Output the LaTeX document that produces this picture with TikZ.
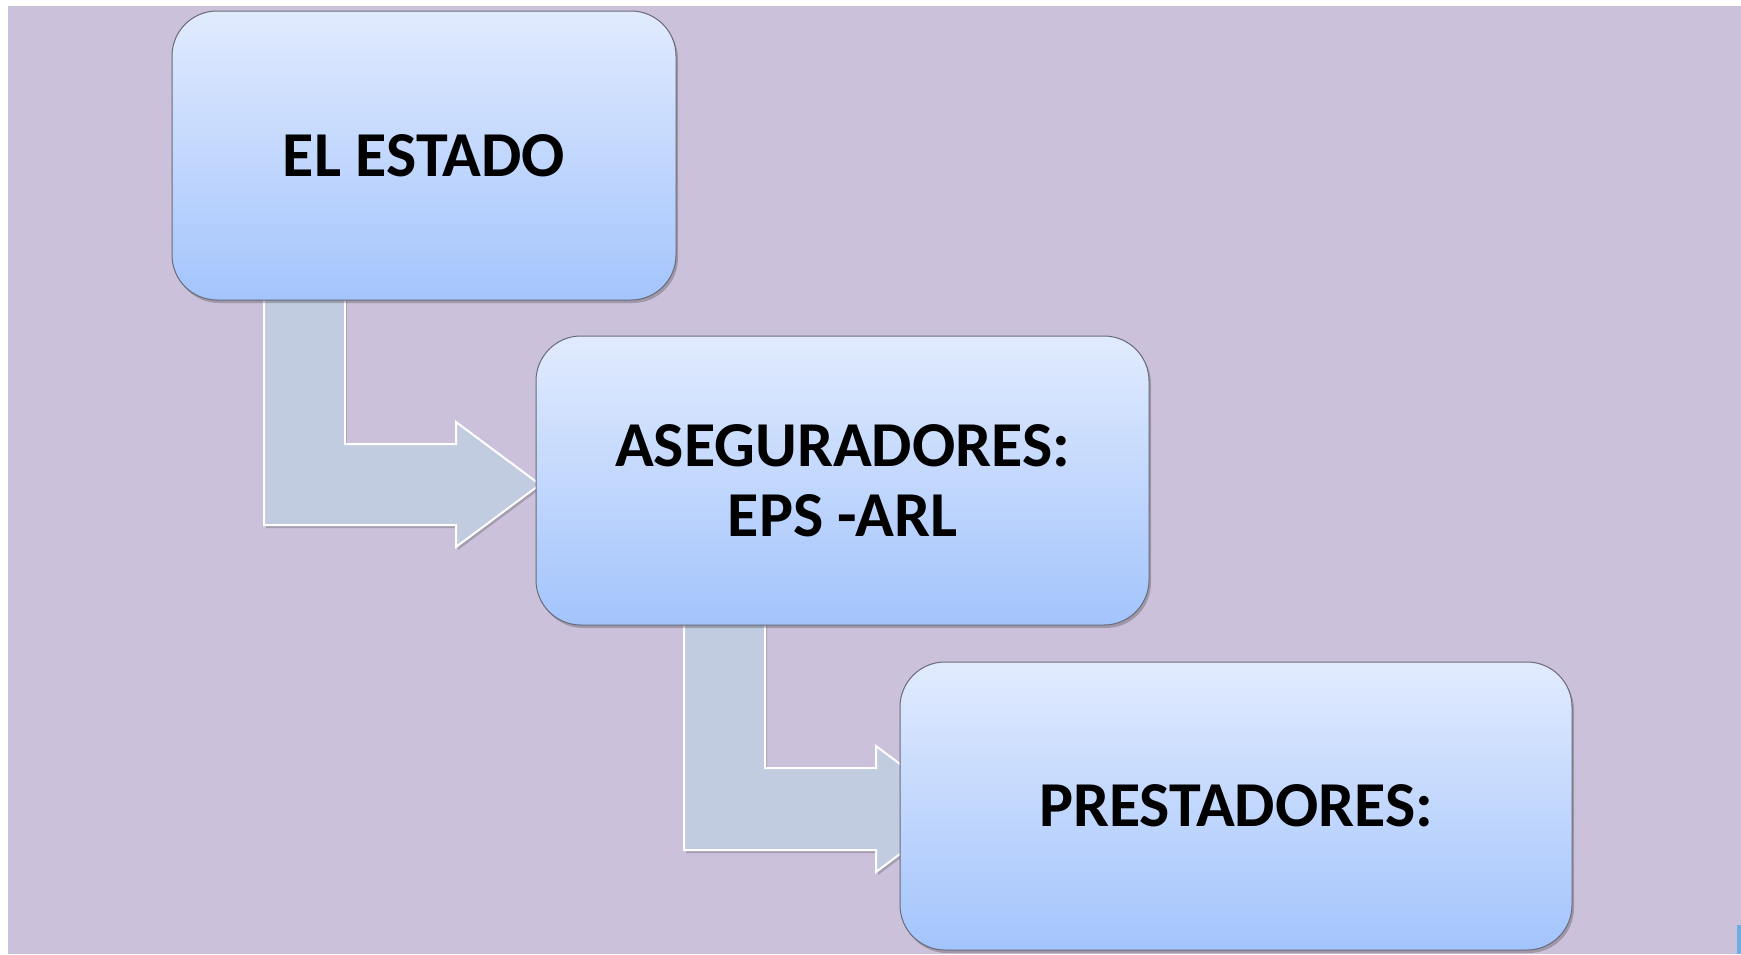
\documentclass[tikz,border=0pt]{standalone}
\usepackage{fontspec}
\setmainfont{Carlito}
\usetikzlibrary{shadows,calc}
\definecolor{bgc}{HTML}{CBC1DA}
\definecolor{boxtop}{HTML}{E1EBFE}
\definecolor{boxbot}{HTML}{A3C4FC}
\definecolor{boxline}{HTML}{6A6A78}
\definecolor{arrowc}{HTML}{C2CCE0}
\tikzset{
  stagebox/.style={rectangle, rounded corners=45pt, draw=boxline, line width=1pt,
    top color=boxtop, bottom color=boxbot, inner sep=0pt, outer sep=0pt,
    align=center, font=\bfseries\fontsize{64}{70}\selectfont,
    drop shadow={shadow xshift=2pt, shadow yshift=-3pt, opacity=0.35, fill=black!70}},
  blockarrow/.style={fill=arrowc, draw=white, line width=2pt, line join=miter,
    drop shadow={shadow xshift=2pt, shadow yshift=-3pt, opacity=0.3, fill=black!70}}
}
\begin{document}
\begin{tikzpicture}[x=1pt,y=-1pt]
\useasboundingbox (0,0) rectangle (1741,954);
\fill[white] (0,0) rectangle (1741,954);
\fill[bgc] (8,6) rectangle (1741,954);
\fill[cyan!70!blue!60] (1737,925) rectangle (1741,954);

% positions of the stages
\coordinate (c1) at (424,155.5);
\coordinate (c2) at (842.5,480.5);
\coordinate (c3) at (1236,806);

% block arrows (drawn first, under the boxes)
\coordinate (a1s) at (264,295);
\coordinate (a2s) at (684,620);
\draw[blockarrow] (a1s) -- ++(0,230) -- ++(192,0) -- ++(0,22) -- ++(84,-62.5)
  -- ++(-84,-62.5) -- ++(0,22) -- ++(-111,0) -- ++(0,-149) -- cycle;
\draw[blockarrow] (a2s) -- ++(0,230) -- ++(192,0) -- ++(0,22) -- ++(84,-63)
  -- ++(-84,-63) -- ++(0,22) -- ++(-111,0) -- ++(0,-148) -- cycle;

\node[stagebox, minimum width=504pt, minimum height=289pt] (b1) at (c1) {EL ESTADO};
\node[stagebox, minimum width=613pt, minimum height=289pt] (b2) at (c2) {ASEGURADORES:\\EPS -ARL};
\node[stagebox, minimum width=672pt, minimum height=288pt] (b3) at (c3) {PRESTADORES:};
\end{tikzpicture}
\end{document}
